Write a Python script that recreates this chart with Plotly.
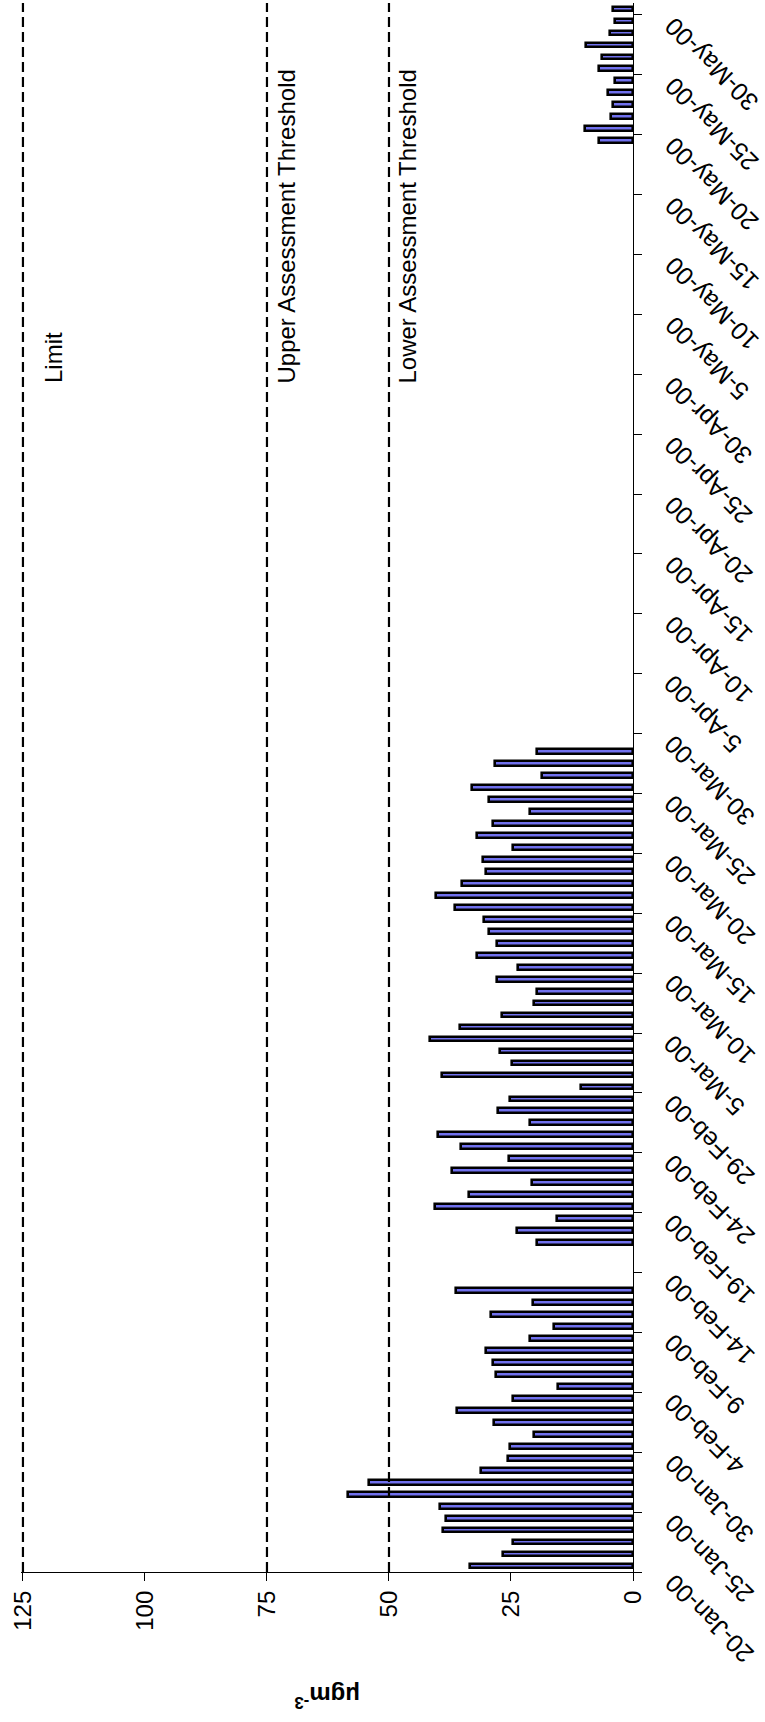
import plotly.graph_objects as go

# Date labels shown every fifth day along the category axis
tick_labels = [
    "20-Jan-00", "25-Jan-00", "30-Jan-00", "4-Feb-00", "9-Feb-00", "14-Feb-00",
    "19-Feb-00", "24-Feb-00", "29-Feb-00", "5-Mar-00", "10-Mar-00", "15-Mar-00",
    "20-Mar-00", "25-Mar-00", "30-Mar-00", "5-Apr-00", "10-Apr-00", "15-Apr-00",
    "20-Apr-00", "25-Apr-00", "30-Apr-00", "5-May-00", "10-May-00", "15-May-00",
    "20-May-00", "25-May-00", "30-May-00",
]

# Daily means (ugm-3), in day order from 20-Jan-00
jan_feb_values = [
    33.4, 26.6, 24.5, 38.9, 38.4, 39.6, 58.5, 54.1, 31.1, 25.7, 25.3, 20.3,
    28.5, 36.1, 24.6, 15.4, 28.1, 28.7, 30.2, 21.2, 16.2, 29.0, 20.5, 36.3,
]
feb_gap_days = 3
feb_apr_values = [
    19.6, 23.8, 15.5, 40.6, 33.6, 20.6, 37.1, 25.5, 35.2, 39.9, 21.1, 27.7,
    25.3, 10.6, 39.1, 24.8, 27.2, 41.6, 35.5, 26.8, 20.2, 19.7, 27.8, 23.6,
    31.9, 27.8, 29.5, 30.5, 36.5, 40.4, 35.0, 30.2, 30.7, 24.6, 32.0, 28.7,
    21.2, 29.6, 32.9, 18.7, 28.3, 19.7,
]
spring_gap_days = 50
may_jun_values = [7.0, 9.9, 4.6, 4.1, 5.1, 3.7, 6.9, 6.3, 9.6, 4.7, 3.7, 4.1]

daily_values = (
    jan_feb_values
    + [None] * feb_gap_days
    + feb_apr_values
    + [None] * spring_gap_days
    + may_jun_values
)

# Reference levels
limit_value = 125
upper_threshold = 75
lower_threshold = 50
threshold_names = ["Limit", "Upper Assessment Threshold", "Lower Assessment Threshold"]
threshold_values = [limit_value, upper_threshold, lower_threshold]

FONT = "Liberation Sans, Arial, sans-serif"
n_days = len(daily_values)
day_pos = [i + 0.5 for i in range(n_days)]
tick_pos = [5 * k for k in range(len(tick_labels))]

fig = go.Figure()

fig.add_trace(go.Bar(
    x=daily_values,
    y=day_pos,
    orientation="h",
    width=0.40,
    marker=dict(color="#7171EE", line=dict(color="black", width=2.6)),
    showlegend=False,
))

for name, val in zip(threshold_names, threshold_values):
    fig.add_trace(go.Scatter(
        x=[val, val], y=[0, n_days],
        mode="lines",
        line=dict(color="black", width=2.2, dash="10px,5px"),
        showlegend=False,
    ))

# Threshold captions, reading upward beside each line
caption_shift = {"Limit": 15, "Upper Assessment Threshold": 4, "Lower Assessment Threshold": 3}
for name, val in zip(threshold_names, threshold_values):
    fig.add_annotation(
        text=name, x=val, y=99.1, xref="x", yref="y",
        textangle=-90, xanchor="left", yanchor="bottom",
        xshift=caption_shift[name], showarrow=False,
        font=dict(family=FONT, size=24, color="black"),
    )

# Date labels at each tick along the right-hand axis
for pos, lab in zip(tick_pos, tick_labels):
    fig.add_annotation(
        text=lab, x=1, y=pos, xref="paper", yref="y",
        textangle=-135, xanchor="left", yanchor="top",
        xshift=23, yshift=6, showarrow=False,
        font=dict(family=FONT, size=25, color="black"),
    )

# Value-axis title
fig.add_annotation(
    text="<b>\u03bcgm<sup>-3</sup></b>", x=0.5, y=-0.0801,
    xref="paper", yref="paper", textangle=180,
    xanchor="center", yanchor="middle", showarrow=False,
    font=dict(family=FONT, size=24, color="black"),
)

fig.update_layout(
    width=765, height=1722,
    margin=dict(l=21, r=132, t=3, b=150),
    paper_bgcolor="white", plot_bgcolor="white",
    bargap=0,
    xaxis=dict(
        # small headroom past 125 keeps the limit line from being clipped
        range=[125.4, 0], tickvals=[0, 25, 50, 75, 100, 125],
        tickangle=-90, ticks="outside", ticklen=8, tickwidth=1.3,
        tickcolor="black", showline=True, linecolor="black", linewidth=1.3,
        showgrid=False, zeroline=False,
        tickfont=dict(family=FONT, size=24, color="black"),
    ),
    yaxis=dict(
        range=[0, n_days], side="right", tickvals=tick_pos,
        showticklabels=False, ticks="outside", ticklen=8, tickwidth=1.3,
        tickcolor="black", showline=True, linecolor="black", linewidth=1.3,
        showgrid=False, zeroline=False,
    ),
)

fig.write_html("out.html")
